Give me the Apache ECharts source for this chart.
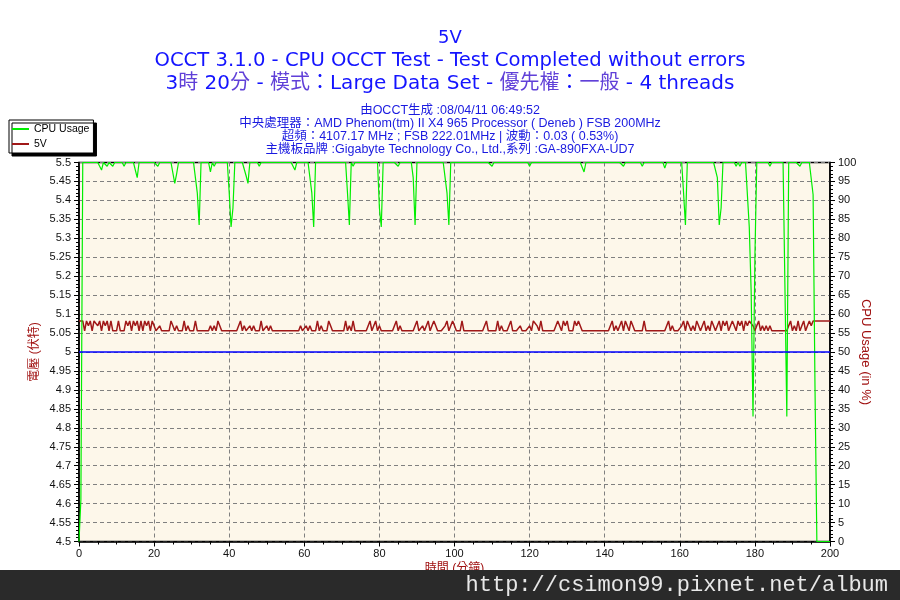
<!DOCTYPE html>
<html>
<head>
<meta charset="utf-8">
<script src="https://cdn.jsdelivr.net/npm/echarts@6/dist/echarts.min.js"></script>
<style>html,body{margin:0;padding:0;background:#fff;}#c{width:900px;height:600px;}</style>
</head>
<body>
<div id="c"></div>
<script>
// Sampling step of the log (minutes between readings)
const sampleMinutes = 0.5;

// 5V rail readings (V), one per 0.5 min, t = 0 … 200 min
const volt5V = [
5.082,5.082,5.082,5.056,5.082,5.069,5.082,5.056,5.082,5.082,5.069,5.082,5.056,5.082,5.069,5.082,5.056,5.082,5.056,5.056,
5.056,5.082,5.056,5.056,5.056,5.082,5.069,5.082,5.056,5.082,5.069,5.082,5.056,5.082,5.056,5.082,5.069,5.082,5.056,5.082,
5.069,5.056,5.056,5.069,5.056,5.056,5.056,5.056,5.056,5.082,5.069,5.056,5.069,5.056,5.056,5.056,5.082,5.056,5.069,5.056,
5.056,5.056,5.082,5.056,5.056,5.056,5.056,5.056,5.056,5.056,5.069,5.056,5.069,5.056,5.082,5.082,5.056,5.056,5.056,5.056,
5.056,5.056,5.056,5.056,5.056,5.056,5.082,5.056,5.069,5.056,5.056,5.069,5.056,5.069,5.056,5.056,5.056,5.082,5.056,5.056,
5.069,5.056,5.069,5.056,5.056,5.056,5.056,5.056,5.056,5.056,5.056,5.056,5.056,5.056,5.056,5.056,5.056,5.056,5.069,5.056,
5.056,5.069,5.056,5.069,5.056,5.056,5.056,5.082,5.056,5.069,5.056,5.056,5.056,5.082,5.069,5.056,5.056,5.056,5.056,5.056,
5.056,5.056,5.082,5.056,5.069,5.056,5.082,5.056,5.056,5.056,5.056,5.056,5.056,5.056,5.056,5.082,5.056,5.069,5.082,5.056,
5.069,5.056,5.056,5.056,5.056,5.056,5.056,5.056,5.056,5.082,5.056,5.069,5.056,5.056,5.056,5.056,5.056,5.056,5.056,5.056,
5.082,5.056,5.056,5.069,5.056,5.056,5.082,5.056,5.069,5.082,5.069,5.056,5.056,5.056,5.056,5.069,5.082,5.056,5.069,5.082,
5.069,5.056,5.056,5.056,5.082,5.056,5.056,5.056,5.056,5.056,5.056,5.056,5.056,5.056,5.056,5.056,5.056,5.082,5.056,5.056,
5.056,5.056,5.056,5.082,5.056,5.069,5.056,5.056,5.056,5.056,5.082,5.056,5.056,5.056,5.056,5.069,5.056,5.056,5.056,5.056,
5.069,5.056,5.082,5.082,5.069,5.056,5.082,5.056,5.056,5.056,5.056,5.056,5.056,5.056,5.056,5.082,5.082,5.056,5.082,5.069,
5.082,5.056,5.056,5.056,5.082,5.069,5.082,5.082,5.056,5.056,5.056,5.056,5.056,5.056,5.056,5.056,5.056,5.056,5.056,5.056,
5.056,5.056,5.056,5.056,5.082,5.056,5.069,5.056,5.056,5.082,5.056,5.082,5.069,5.056,5.082,5.069,5.056,5.056,5.056,5.056,
5.056,5.082,5.056,5.056,5.056,5.056,5.056,5.056,5.056,5.056,5.056,5.056,5.056,5.056,5.082,5.056,5.069,5.056,5.056,5.056,
5.056,5.069,5.082,5.056,5.082,5.069,5.056,5.069,5.056,5.082,5.069,5.056,5.056,5.082,5.056,5.069,5.056,5.082,5.069,5.056,
5.069,5.082,5.056,5.082,5.069,5.082,5.056,5.069,5.082,5.069,5.056,5.082,5.069,5.082,5.056,5.082,5.069,5.082,5.082,5.069,
5.056,5.069,5.082,5.056,5.069,5.056,5.069,5.056,5.069,5.056,5.056,5.056,5.056,5.056,5.056,5.056,5.056,5.056,5.069,5.082,
5.056,5.069,5.056,5.082,5.056,5.069,5.082,5.056,5.069,5.082,5.069,5.082,5.082,5.082,5.082,5.082,5.082,5.082,5.082,5.082,
5.082
];

// CPU usage readings (%), one per 0.5 min, t = 0 … 200 min
const cpuUsage = [
0,11,100,100,100,100,100,100,100,100,100,99,98,100,100,99,100,100,99,100,
100,100,100,100,99,100,100,100,100,100,100,96,100,100,100,100,100,100,100,100,
100,100,99,100,100,100,100,100,100,100,100,94.5,97,100,100,100,100,100,100,100,
100,100,100,92,83.5,100,100,100,100,100,97.5,100,99,100,100,100,100,100,100,100,
92,83,88,100,100,100,100,100,100,96.5,94.5,100,100,100,100,100,99,100,100,100,
100,100,100,100,100,100,100,100,100,100,100,100,100,100,100,98,100,100,100,100,
100,100,100,100,92,83,100,100,100,100,100,100,100,100,100,100,100,100,100,100,
100,100,100,92,83.5,100,99,100,100,100,100,100,100,100,100,100,100,100,100,100,
88,83,100,100,100,100,100,100,100,100,99,100,100,100,100,100,100,100,96,83.5,
100,100,100,100,100,100,100,100,100,100,100,100,100,100,100,100,92,83.5,100,100,
100,100,100,100,100,100,100,100,100,100,100,100,100,100,100,100,100,100,100,100,
99,100,100,100,100,100,100,100,100,100,100,100,100,100,100,100,100,100,100,100,
99,100,100,100,100,100,100,100,100,100,100,100,100,100,100,100,100,100,100,100,
100,100,100,100,100,100,100,100,100,97.5,100,100,100,100,100,100,100,100,100,100,
100,100,100,100,100,100,100,100,100,100,99,100,100,100,100,100,100,100,100,100,
99,100,100,100,100,100,100,100,100,100,100,100,98.5,100,100,100,100,100,100,100,
100,100,92,83.5,100,100,100,100,100,100,100,100,100,100,100,100,100,100,100,100,
96,83.5,88,100,100,100,100,100,100,100,99,100,99,100,100,100,100,83,66,33,
75,100,100,100,100,100,100,100,99,100,100,100,100,100,100,100,67,33,100,100,
100,100,100,100,99,100,100,100,100,100,100,91.5,41,0,0,0,0,0,0,0,
0
];

// Axis ticks / ranges
const timeTicks = { min: 0, max: 200, interval: 20 };
const voltTicks = { min: 4.5, max: 5.5, interval: 0.05 };
const cpuTicks = { min: 0, max: 100, interval: 5 };
const nominalVolt = 5;

// Texts
const titleMain = '5V';
const titleLine2 = 'OCCT 3.1.0 - CPU OCCT Test - Test Completed without errors';
const titleLine3 = '{b|3}{p|時} {b|20}{p|分}{b| - }{p|模式}{b|：Large Data Set - }{p|優先權}{b|：}{p|一般}{b| - 4 threads}';
const infoLines = [
  '由OCCT生成 :08/04/11 06:49:52',
  '中央處理器：AMD Phenom(tm) II X4 965 Processor ( Deneb ) FSB 200MHz',
  '超頻：4107.17 MHz ; FSB 222.01MHz | 波動：0.03 ( 0.53%)',
  '主機板品牌 :Gigabyte Technology Co., Ltd.,系列 :GA-890FXA-UD7'
];
const watermark = 'http://csimon99.pixnet.net/album';

const FONT = "'Liberation Sans', 'Noto Sans CJK TC', sans-serif";
const TFONT = "'DejaVu Sans', 'Noto Sans CJK TC', sans-serif";
const BLUE = '#1414ff';
const PURPLE = '#6040d8';
const DARKRED = '#a01010';

const chart = echarts.init(document.getElementById('c'), null, { renderer: 'canvas' });

const voltData = volt5V.map((v, i) => [i * sampleMinutes, v]);
const cpuData = cpuUsage.map((v, i) => [i * sampleMinutes, v]);

const axisCommon = {
  axisLine: { show: true, lineStyle: { color: '#000', width: 1.5 } },
  axisTick: { show: true, length: 5, lineStyle: { color: '#000' } },
  axisLabel: { color: '#111', fontSize: 11, fontFamily: FONT },
  nameTextStyle: { color: DARKRED, fontSize: 12, fontFamily: FONT },
  nameMoveOverlap: false
};

const titles = [
  { text: titleMain, left: 'center', top: 27, padding: 0,
    textStyle: { fontSize: 18, lineHeight: 22, color: BLUE, fontWeight: 'normal', fontFamily: TFONT } },
  { text: titleLine2, left: 'center', top: 49, padding: 0,
    textStyle: { fontSize: 19.6, lineHeight: 24, color: BLUE, fontWeight: 'normal', fontFamily: TFONT } },
  { text: titleLine3, left: 'center', top: 72, padding: 0,
    textStyle: { fontSize: 20, lineHeight: 24, fontFamily: TFONT, fontWeight: 'normal',
      rich: {
        b: { fontSize: 20, color: BLUE, fontFamily: TFONT, fontWeight: 'normal', lineHeight: 24 },
        p: { fontSize: 20, color: PURPLE, fontFamily: TFONT, fontWeight: 'normal', lineHeight: 24 }
      } } }
];
infoLines.forEach((line, k) => {
  titles.push({ text: line, left: 'center', top: 104 + 13 * k, padding: 0,
    textStyle: { fontSize: 12.5, lineHeight: 13, color: '#1a1ae0', fontWeight: 'normal', fontFamily: FONT } });
});

chart.setOption({
  animation: false,
  backgroundColor: '#fff',
  textStyle: { fontFamily: FONT },
  title: titles,
  legend: {
    data: ['CPU Usage', '5V'],
    orient: 'vertical',
    left: 9, top: 120,
    icon: 'rect',
    itemWidth: 17, itemHeight: 2, itemGap: 3,
    padding: [3, 4, 3, 3],
    backgroundColor: '#fff',
    borderColor: '#000', borderWidth: 1, borderRadius: 0,
    shadowColor: '#000', shadowBlur: 0, shadowOffsetX: 3, shadowOffsetY: 3,
    textStyle: { fontSize: 10.5, lineHeight: 12, color: '#000', fontFamily: FONT }
  },
  grid: {
    left: 79, right: 70, top: 162.5, height: 379,
    show: true, backgroundColor: '#fdf7ea', borderColor: '#000', borderWidth: 1.5
  },
  xAxis: Object.assign({}, axisCommon, {
    type: 'value', min: timeTicks.min, max: timeTicks.max, interval: timeTicks.interval,
    minorTick: { show: true, splitNumber: 4, length: 3, lineStyle: { color: '#000' } },
    axisLabel: Object.assign({}, axisCommon.axisLabel, { margin: 7 }),
    splitLine: { show: true, lineStyle: { color: '#808080', type: [4, 3], width: 1 } },
    name: '時間 (分鐘)', nameLocation: 'middle', nameGap: 21
  }),
  yAxis: [
    Object.assign({}, axisCommon, {
      type: 'value', position: 'left',
      min: voltTicks.min, max: voltTicks.max, interval: voltTicks.interval,
      minorTick: { show: true, splitNumber: 5, length: 3, lineStyle: { color: '#000' } },
      axisLabel: Object.assign({}, axisCommon.axisLabel, { margin: 8 }),
      splitLine: { show: true, lineStyle: { color: '#808080', type: [4, 3], width: 1 } },
      name: '電壓 (伏特)', nameLocation: 'middle', nameGap: 38
    }),
    Object.assign({}, axisCommon, {
      type: 'value', position: 'right',
      min: cpuTicks.min, max: cpuTicks.max, interval: cpuTicks.interval,
      minorTick: { show: true, splitNumber: 5, length: 3, lineStyle: { color: '#000' } },
      axisLabel: Object.assign({}, axisCommon.axisLabel, { margin: 8 }),
      splitLine: { show: false },
      name: 'CPU Usage (in %)', nameLocation: 'middle', nameGap: 29, nameRotate: -90,
      nameTextStyle: { color: DARKRED, fontSize: 13, fontFamily: FONT }
    })
  ],
  series: [
    {
      name: '5V', type: 'line', yAxisIndex: 0, data: voltData,
      showSymbol: false, symbol: 'none', smooth: false,
      lineStyle: { color: '#a01818', width: 1.5 },
      itemStyle: { color: '#a01818' },
      markLine: {
        silent: true, symbol: 'none', animation: false,
        label: { show: false },
        lineStyle: { color: '#0000ff', width: 1.6, type: 'solid' },
        data: [{ yAxis: nominalVolt }]
      },
      z: 2
    },
    {
      name: 'CPU Usage', type: 'line', yAxisIndex: 1, data: cpuData,
      showSymbol: false, symbol: 'none', smooth: false,
      lineStyle: { color: '#00ee00', width: 1.2 },
      itemStyle: { color: '#00ee00' },
      z: 3
    }
  ],
  graphic: [
    { type: 'rect', left: 0, top: 570, z: 100, shape: { width: 900, height: 30 },
      style: { fill: '#2a2a2a' } },
    { type: 'text', right: 12, top: 574, z: 101,
      style: { text: watermark, font: "22px 'Liberation Mono', 'DejaVu Sans Mono', monospace", fill: '#e8e8e8' } }
  ]
});
</script>
</body>
</html>
